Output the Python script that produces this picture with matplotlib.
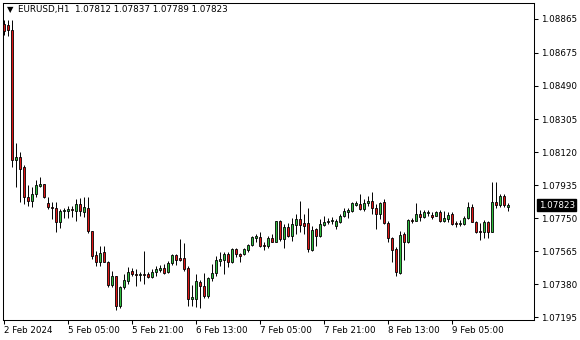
import matplotlib
matplotlib.use("Agg")
import matplotlib.pyplot as plt
from matplotlib.transforms import blended_transform_factory

# EURUSD H1 candles (one per hour, oldest first)
opens = [
    1.08837, 1.08832, 1.08804, 1.08073, 1.08095, 1.08034, 1.07866, 1.07844, 1.07888, 1.07928,
    1.07939, 1.07833, 1.07810, 1.07805, 1.07727, 1.07788, 1.07788, 1.07799, 1.07788, 1.07827,
    1.07782, 1.07805, 1.07676, 1.07543, 1.07503, 1.07559, 1.07503, 1.07375, 1.07425, 1.07258,
    1.07364, 1.07397, 1.07453, 1.07437, 1.07431, 1.07437, 1.07437, 1.07420, 1.07448, 1.07459,
    1.07470, 1.07448, 1.07498, 1.07543, 1.07526, 1.07526, 1.07470, 1.07297, 1.07297, 1.07392,
    1.07370, 1.07314, 1.07414, 1.07442, 1.07509, 1.07515, 1.07548, 1.07503, 1.07576, 1.07548,
    1.07548, 1.07570, 1.07598, 1.07637, 1.07643, 1.07598, 1.07593, 1.07637, 1.07615, 1.07732,
    1.07632, 1.07699, 1.07649, 1.07710, 1.07743, 1.07721, 1.07721, 1.07570, 1.07688, 1.07649,
    1.07710, 1.07727, 1.07732, 1.07704, 1.07727, 1.07760, 1.07782, 1.07788, 1.07822, 1.07827,
    1.07799, 1.07833, 1.07844, 1.07805, 1.07771, 1.07838, 1.07721, 1.07637, 1.07576, 1.07442,
    1.07660, 1.07615, 1.07738, 1.07732, 1.07771, 1.07755, 1.07777, 1.07766, 1.07760, 1.07782,
    1.07732, 1.07743, 1.07771, 1.07721, 1.07715, 1.07715, 1.07749, 1.07810, 1.07727, 1.07676,
    1.07671, 1.07727, 1.07671, 1.07838, 1.07822, 1.07872, 1.07812,
]
highs = [
    1.08859, 1.08859, 1.08859, 1.08173, 1.08123, 1.08045, 1.07933, 1.07922, 1.07961, 1.07978,
    1.07944, 1.07866, 1.07838, 1.07838, 1.07799, 1.07805, 1.07816, 1.07816, 1.07855, 1.07861,
    1.07866, 1.07866, 1.07676, 1.07565, 1.07593, 1.07593, 1.07509, 1.07453, 1.07425, 1.07370,
    1.07437, 1.07476, 1.07470, 1.07464, 1.07448, 1.07565, 1.07448, 1.07464, 1.07481, 1.07487,
    1.07492, 1.07509, 1.07548, 1.07548, 1.07632, 1.07610, 1.07481, 1.07375, 1.07437, 1.07403,
    1.07442, 1.07420, 1.07492, 1.07537, 1.07559, 1.07559, 1.07559, 1.07582, 1.07582, 1.07554,
    1.07582, 1.07604, 1.07649, 1.07660, 1.07671, 1.07615, 1.07649, 1.07660, 1.07732, 1.07738,
    1.07715, 1.07721, 1.07749, 1.07771, 1.07844, 1.07771, 1.07805, 1.07704, 1.07693, 1.07743,
    1.07760, 1.07749, 1.07755, 1.07743, 1.07771, 1.07805, 1.07805, 1.07838, 1.07844, 1.07888,
    1.07855, 1.07872, 1.07894, 1.07827, 1.07838, 1.07855, 1.07732, 1.07643, 1.07587, 1.07676,
    1.07671, 1.07743, 1.07749, 1.07833, 1.07794, 1.07794, 1.07794, 1.07782, 1.07788, 1.07794,
    1.07788, 1.07782, 1.07782, 1.07732, 1.07738, 1.07760, 1.07838, 1.07827, 1.07732, 1.07721,
    1.07738, 1.07732, 1.07950, 1.07955, 1.07888, 1.07883, 1.07837,
]
lows = [
    1.08776, 1.08770, 1.08034, 1.07922, 1.07838, 1.07827, 1.07816, 1.07810, 1.07866, 1.07922,
    1.07861, 1.07799, 1.07743, 1.07671, 1.07693, 1.07749, 1.07749, 1.07755, 1.07732, 1.07760,
    1.07755, 1.07665, 1.07520, 1.07481, 1.07481, 1.07503, 1.07364, 1.07364, 1.07236, 1.07247,
    1.07353, 1.07381, 1.07425, 1.07370, 1.07397, 1.07381, 1.07414, 1.07414, 1.07425, 1.07448,
    1.07437, 1.07442, 1.07487, 1.07487, 1.07509, 1.07453, 1.07258, 1.07258, 1.07252, 1.07247,
    1.07302, 1.07302, 1.07397, 1.07425, 1.07481, 1.07437, 1.07476, 1.07498, 1.07531, 1.07503,
    1.07543, 1.07559, 1.07593, 1.07615, 1.07587, 1.07570, 1.07582, 1.07615, 1.07615, 1.07621,
    1.07582, 1.07643, 1.07621, 1.07660, 1.07671, 1.07660, 1.07559, 1.07565, 1.07593, 1.07643,
    1.07704, 1.07715, 1.07715, 1.07688, 1.07721, 1.07755, 1.07749, 1.07782, 1.07816, 1.07794,
    1.07788, 1.07816, 1.07771, 1.07688, 1.07743, 1.07715, 1.07615, 1.07503, 1.07425, 1.07437,
    1.07515, 1.07610, 1.07721, 1.07732, 1.07732, 1.07749, 1.07760, 1.07743, 1.07760, 1.07727,
    1.07727, 1.07727, 1.07710, 1.07699, 1.07704, 1.07710, 1.07743, 1.07727, 1.07665, 1.07626,
    1.07637, 1.07637, 1.07671, 1.07805, 1.07810, 1.07810, 1.07789,
]
closes = [
    1.08798, 1.08804, 1.08078, 1.08095, 1.08028, 1.07866, 1.07844, 1.07888, 1.07933, 1.07939,
    1.07866, 1.07810, 1.07805, 1.07727, 1.07788, 1.07794, 1.07799, 1.07794, 1.07827, 1.07788,
    1.07810, 1.07676, 1.07537, 1.07503, 1.07554, 1.07503, 1.07375, 1.07425, 1.07258, 1.07364,
    1.07403, 1.07448, 1.07437, 1.07431, 1.07437, 1.07431, 1.07420, 1.07448, 1.07464, 1.07470,
    1.07442, 1.07498, 1.07543, 1.07515, 1.07515, 1.07464, 1.07297, 1.07308, 1.07397, 1.07370,
    1.07314, 1.07414, 1.07442, 1.07515, 1.07520, 1.07548, 1.07503, 1.07576, 1.07548, 1.07537,
    1.07576, 1.07598, 1.07643, 1.07649, 1.07593, 1.07593, 1.07637, 1.07615, 1.07732, 1.07632,
    1.07699, 1.07649, 1.07715, 1.07743, 1.07710, 1.07704, 1.07576, 1.07682, 1.07649, 1.07715,
    1.07727, 1.07732, 1.07738, 1.07732, 1.07760, 1.07788, 1.07794, 1.07833, 1.07833, 1.07799,
    1.07833, 1.07844, 1.07805, 1.07771, 1.07833, 1.07721, 1.07637, 1.07570, 1.07448, 1.07654,
    1.07615, 1.07738, 1.07732, 1.07771, 1.07755, 1.07782, 1.07782, 1.07755, 1.07782, 1.07732,
    1.07749, 1.07766, 1.07715, 1.07715, 1.07721, 1.07749, 1.07810, 1.07727, 1.07671, 1.07671,
    1.07727, 1.07671, 1.07838, 1.07822, 1.07872, 1.07822, 1.07823,
]

time_labels = ["2 Feb 2024", "5 Feb 05:00", "5 Feb 21:00", "6 Feb 13:00",
               "7 Feb 05:00", "7 Feb 21:00", "8 Feb 13:00", "9 Feb 05:00"]
time_label_bars = [0, 16, 32, 48, 64, 80, 96, 112]
price_ticks = [1.07195, 1.07380, 1.07565, 1.07750, 1.07935,
               1.08120, 1.08305, 1.08490, 1.08675, 1.08865]

symbol = "EURUSD,H1"
last_price = closes[-1]

BULL = "#2fbf3f"
BEAR = "#e01515"
FONT = "DejaVu Sans"
FS = 6.3

W, H = 580, 340
fig = plt.figure(figsize=(W / 100, H / 100), dpi=100)
fig.patch.set_facecolor("white")
# plot box in pixels: x 2.5..534, y 2.5..319.5
ax = fig.add_axes([2.5 / W, (H - 319.5) / H, (534 - 2.5) / W, (319.5 - 2.5) / H])

idx = list(range(len(opens)))
ax.vlines(idx, lows, highs, color="black", linewidth=0.7, zorder=2)
bottoms = [min(o, c) for o, c in zip(opens, closes)]
heights = [max(abs(c - o), 0.000012) for o, c in zip(opens, closes)]
colors = [BULL if c >= o else BEAR for o, c in zip(opens, closes)]
ax.bar(idx, heights, bottom=bottoms, width=0.5, color=colors,
       edgecolor="black", linewidth=0.6, zorder=3)

ax.set_xlim(-0.25, 132.625)
ax.set_ylim(1.07183, 1.08957)

ax.yaxis.tick_right()
ax.set_yticks(price_ticks)
ax.set_yticklabels([f"{p:.5f}" for p in price_ticks])
ax.set_xticks(time_label_bars)
ax.set_xticklabels(time_labels, ha="left")
ax.tick_params(axis="y", length=3, width=0.75, pad=2, labelsize=FS,
               labelfontfamily=FONT, colors="black")
ax.tick_params(axis="x", length=3, width=0.75, pad=1.5, labelsize=FS,
               labelfontfamily=FONT, colors="black")
for s in ax.spines.values():
    s.set_linewidth(0.75)
    s.set_color("black")

# current price box on the price scale
tr = blended_transform_factory(ax.transAxes, ax.transData)
ax.text(1.009, last_price, f"{last_price:.5f}", transform=tr, color="white",
        fontsize=FS, family=FONT, va="center", ha="left", zorder=5,
        bbox=dict(boxstyle="square,pad=0.15", facecolor="black", edgecolor="black"),
        clip_on=False)

# header line
ax.text(0.008, 0.977, "\u25bc", transform=ax.transAxes, fontsize=6,
        family=FONT, va="center", ha="left")
ax.text(0.029, 0.977,
        f"{symbol}  {opens[-1]:.5f} {highs[-1]:.5f} {lows[-1]:.5f} {closes[-1]:.5f}",
        transform=ax.transAxes, fontsize=FS, family=FONT, va="center", ha="left")

fig.savefig("out.png", dpi=100)
